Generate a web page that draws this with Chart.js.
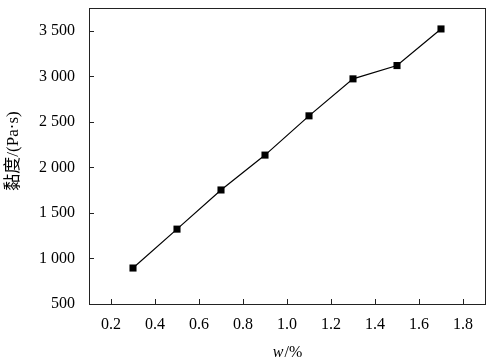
<!DOCTYPE html>
<html>
<head>
<meta charset="utf-8">
<script src="https://cdn.jsdelivr.net/npm/chart.js@4"></script>
<style>
html,body{margin:0;padding:0;background:#fff;}
#wrap{width:493px;height:364px;position:relative;}
</style>
</head>
<body>
<div id="wrap"><canvas id="c"></canvas></div>
<script>
const xValues = [0.3, 0.5, 0.7, 0.9, 1.1, 1.3, 1.5, 1.7];
const viscosity = [895, 1322, 1752, 2135, 2566, 2972, 3118, 3520];
const xTicks = [0.2, 0.4, 0.6, 0.8, 1.0, 1.2, 1.4, 1.6, 1.8];
const yTicks = [500, 1000, 1500, 2000, 2500, 3000, 3500];
const yTitle = '黏度/(Pa·s)';
const xTitleItalic = 'w';
const xTitleRest = '/%';

const FONT = '"Liberation Serif", "Times New Roman", "Noto Sans CJK SC", serif';

function fmtY(v){
  const s = String(v);
  return s.length > 3 ? s.slice(0, s.length-3) + ' ' + s.slice(-3) : s;
}

const decor = {
  id: 'decor',
  afterDraw(chart){
    const {ctx, chartArea:a, scales} = chart;
    ctx.save();
    ctx.strokeStyle = '#222';
    ctx.lineWidth = 1;
    ctx.strokeRect(Math.round(a.left)+0.5, Math.round(a.top)+0.5, Math.round(a.right-a.left), Math.round(a.bottom-a.top));
    ctx.beginPath();
    xTicks.forEach(v=>{
      const x = Math.round(scales.x.getPixelForValue(v))+0.5;
      ctx.moveTo(x, a.bottom); ctx.lineTo(x, a.bottom-5);
    });
    yTicks.forEach(v=>{
      const y = Math.round(scales.y.getPixelForValue(v))+0.5;
      ctx.moveTo(a.left, y); ctx.lineTo(a.left+5, y);
    });
    ctx.stroke();
    // x title
    ctx.fillStyle = '#000';
    ctx.textBaseline = 'alphabetic';
    ctx.font = 'italic 16px ' + FONT;
    const w1 = ctx.measureText(xTitleItalic).width;
    ctx.font = '16px ' + FONT;
    const w2 = ctx.measureText(xTitleRest).width;
    const cx = (a.left + a.right)/2;
    let sx = cx - (w1+w2)/2;
    ctx.font = 'italic 16px ' + FONT;
    ctx.textAlign = 'left';
    ctx.fillText(xTitleItalic, sx, 357);
    ctx.font = '16px ' + FONT;
    ctx.fillText(xTitleRest, sx + w1 + 1, 357);
    // y title
    ctx.translate(14, 151);
    ctx.rotate(-Math.PI/2);
    ctx.textAlign = 'center';
    ctx.textBaseline = 'middle';
    ctx.font = '17px ' + FONT;
    ctx.fillText(yTitle, 0, 0);
    ctx.restore();
  }
};

new Chart(document.getElementById('c'), {
  type: 'line',
  data: {
    datasets: [{
      data: xValues.map((x,i)=>({x:x, y:viscosity[i]})),
      borderColor: '#000',
      backgroundColor: '#000',
      borderWidth: 1.2,
      pointStyle: 'rect',
      pointRadius: 5,
      pointHoverRadius: 5,
      pointBorderWidth: 0,
      tension: 0
    }]
  },
  options: {
    responsive: true,
    maintainAspectRatio: false,
    animation: false,
    devicePixelRatio: 1,
    layout: {padding: {top: 8, right: 8, left: 0, bottom: 0}},
    plugins: {legend: {display: false}, tooltip: {enabled: false}},
    scales: {
      x: {
        type: 'linear', min: 0.1, max: 1.9,
        afterBuildTicks: s => { s.ticks = xTicks.map(v=>({value:v})); },
        afterFit: s => { s.height = 60; s.paddingLeft = 0; s.paddingRight = 0; },
        grid: {display: false, drawTicks: false},
        border: {display: false},
        ticks: {
          color: '#000', padding: 11,
          font: {family: FONT, size: 16},
          callback: v => v.toFixed(1)
        }
      },
      y: {
        type: 'linear', min: 500, max: 3750,
        afterBuildTicks: s => { s.ticks = yTicks.map(v=>({value:v})); },
        afterFit: s => { s.width = 89; s.paddingTop = 0; s.paddingBottom = 0; },
        grid: {display: false, drawTicks: false},
        border: {display: false},
        ticks: {
          color: '#000', padding: 14,
          font: {family: FONT, size: 16},
          callback: v => fmtY(v)
        }
      }
    }
  },
  plugins: [decor]
});
</script>
</body>
</html>
